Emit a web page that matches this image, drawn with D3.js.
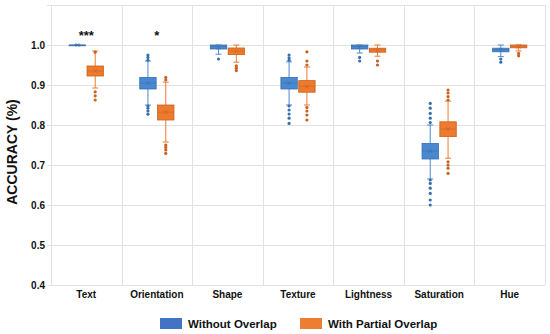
<!DOCTYPE html>
<html>
<head>
<meta charset="utf-8">
<script src="https://cdn.jsdelivr.net/npm/d3@7"></script>
<style>
  body { margin: 0; background: #fff; }
  text { font-family: "Liberation Sans", Arial, sans-serif; font-weight: bold; fill: #111; }
</style>
</head>
<body>
<svg width="550" height="334"></svg>
<script>
// categories and tick labels
var categories = ["Text", "Orientation", "Shape", "Texture", "Lightness", "Saturation", "Hue"];
var series = ["Without Overlap", "With Partial Overlap"];
var yTicks = [0.4, 0.5, 0.6, 0.7, 0.8, 0.9, 1.0];
var stars = ["***", "*", "", "", "", "", ""];

// box stats per category: [lowWhisker, q1, median, q3, highWhisker, mean]
var withoutStats = [
  [1.0, 1.0, 1.0, 1.0, 1.0, 1.0],
  [0.85, 0.89, 0.905, 0.919, 0.96, 0.905],
  [0.977, 0.99, 0.996, 1.0, 1.0, 0.993],
  [0.85, 0.89, 0.905, 0.919, 0.958, 0.904],
  [0.98, 0.99, 0.996, 1.0, 1.0, 0.994],
  [0.665, 0.715, 0.735, 0.754, 0.8, 0.735],
  [0.971, 0.983, 0.988, 0.992, 1.0, 0.988]
];
var partialStats = [
  [0.8925, 0.9225, 0.935, 0.9475, 0.985, 0.935],
  [0.7575, 0.8125, 0.832, 0.85, 0.907, 0.832],
  [0.957, 0.976, 0.985, 0.9925, 1.0, 0.984],
  [0.85, 0.882, 0.897, 0.911, 0.945, 0.896],
  [0.972, 0.982, 0.988, 0.992, 1.0, 0.987],
  [0.717, 0.771, 0.79, 0.808, 0.86, 0.79],
  [0.985, 0.993, 0.997, 1.0, 1.0, 0.996]
];

// outliers per category
var withoutOutliers = [
  [],
  [0.975, 0.969, 0.962, 0.8475, 0.842, 0.835, 0.827],
  [0.965],
  [0.975, 0.968, 0.962, 0.8475, 0.8375, 0.8275, 0.817, 0.804],
  [0.969, 0.96],
  [0.854, 0.842, 0.829, 0.817, 0.806, 0.6625, 0.654, 0.642, 0.629, 0.6125, 0.6],
  [0.965, 0.957]
];
var partialOutliers = [
  [0.982, 0.883, 0.873, 0.8625],
  [0.919, 0.9125, 0.75, 0.744, 0.7375, 0.729],
  [0.948, 0.942, 0.936],
  [0.983, 0.96, 0.95, 0.844, 0.835, 0.825, 0.8125],
  [0.96, 0.95],
  [0.8875, 0.88, 0.871, 0.8625, 0.708, 0.7, 0.692, 0.679],
  [0.979, 0.973]
];

var fills = ["#4a89cf", "#ee7a2e"];
var strokes = ["#3a6fae", "#c9621f"];
var legendFills = ["#4472c4", "#ed7d31"];

var svg = d3.select("svg");
var margin = {left: 51, right: 5, top: 5, bottom: 49};
var W = 550, H = 334;

var x = d3.scaleBand().domain(categories).range([margin.left, W - margin.right]);
var y = d3.scaleLinear().domain([0.4, 1.1]).range([H - margin.bottom, margin.top]);
var sub = d3.scaleBand().domain(series).range([0, x.bandwidth()]).paddingInner(0.08).paddingOuter(1.02);

var g = {
  grid: svg.append("g").attr("id", "grid"),
  axes: svg.append("g").attr("id", "axes"),
  boxes: svg.append("g").attr("id", "boxes"),
  legend: svg.append("g").attr("id", "legend")
};

// horizontal gridlines
g.grid.selectAll("line.h")
  .data(yTicks.concat([1.1]))
  .enter().append("line")
  .attr("x1", margin.left - 4)
  .attr("x2", W - margin.right)
  .attr("y1", function(d) { return Math.round(y(d)) + 0.5; })
  .attr("y2", function(d) { return Math.round(y(d)) + 0.5; })
  .style("stroke", "#e2e2e2")
  .style("stroke-width", 1);

// vertical gridlines
var vx = categories.map(function(c) { return x(c); }).concat([W - margin.right]);
g.grid.selectAll("line.v")
  .data(vx)
  .enter().append("line")
  .attr("x1", function(d) { return Math.round(d) + 0.5; })
  .attr("x2", function(d) { return Math.round(d) + 0.5; })
  .attr("y1", y(1.1))
  .attr("y2", y(0.4))
  .style("stroke", "#e2e2e2");

// y tick labels
g.axes.selectAll("text.ytick")
  .data(yTicks)
  .enter().append("text")
  .attr("x", 45)
  .attr("y", function(d) { return y(d); })
  .attr("dy", "0.35em")
  .attr("text-anchor", "end")
  .style("font-size", "10px")
  .text(function(d) { return d3.format(".1f")(d); });

// x labels
g.axes.selectAll("text.xtick")
  .data(categories)
  .enter().append("text")
  .attr("x", function(d) { return x(d) + x.bandwidth() / 2; })
  .attr("y", 298)
  .attr("text-anchor", "middle")
  .style("font-size", "10px")
  .text(function(d) { return d; });

// y title
g.axes.append("text")
  .attr("transform", "translate(17,152) rotate(-90)")
  .attr("text-anchor", "middle")
  .style("font-size", "14px")
  .text("ACCURACY (%)");

// significance stars
g.axes.selectAll("text.star")
  .data(stars)
  .enter().append("text")
  .attr("x", function(d, i) { return x(categories[i]) + x.bandwidth() / 2; })
  .attr("y", 40)
  .attr("text-anchor", "middle")
  .style("font-size", "13px")
  .text(function(d) { return d; });

function drawSeries(si, stats, outliers) {
  var bw = sub.bandwidth();
  var cat = g.boxes.selectAll("g.s" + si)
    .data(categories)
    .enter().append("g")
    .attr("class", "s" + si)
    .attr("transform", function(d) { return "translate(" + (x(d) + sub(series[si])) + ",0)"; });

  var stroke = strokes[si];
  // whiskers
  cat.append("line")
    .attr("x1", bw / 2).attr("x2", bw / 2)
    .attr("y1", function(d, i) { return y(stats[i][0]); })
    .attr("y2", function(d, i) { return y(stats[i][4]); })
    .style("stroke", fills[si]).style("stroke-width", 1);
  [0, 4].forEach(function(k) {
    cat.append("line")
      .attr("x1", bw / 2 - 3).attr("x2", bw / 2 + 3)
      .attr("y1", function(d, i) { return y(stats[i][k]); })
      .attr("y2", function(d, i) { return y(stats[i][k]); })
      .style("stroke", fills[si]);
  });
  // box
  cat.append("rect")
    .attr("x", 0)
    .attr("width", bw)
    .attr("y", function(d, i) { return y(stats[i][3]); })
    .attr("height", function(d, i) { return Math.max(0.8, y(stats[i][1]) - y(stats[i][3])); })
    .style("fill", fills[si])
    .style("stroke", stroke)
    .style("stroke-width", 0.8);
  // median
  cat.append("line")
    .attr("x1", 0).attr("x2", bw)
    .attr("y1", function(d, i) { return y(stats[i][2]); })
    .attr("y2", function(d, i) { return y(stats[i][2]); })
    .style("stroke", stroke).style("stroke-width", 0.7).style("opacity", 0.7);
  // mean marker
  cat.append("path")
    .attr("d", function(d, i) {
      var cy = y(stats[i][5]), cx = bw / 2;
      return "M" + (cx - 2) + "," + (cy - 2) + "L" + (cx + 2) + "," + (cy + 2) +
             "M" + (cx - 2) + "," + (cy + 2) + "L" + (cx + 2) + "," + (cy - 2);
    })
    .style("stroke", stroke).style("stroke-width", 0.8).style("opacity", 0.8);
  // outliers
  cat.selectAll("circle")
    .data(function(d, i) { return outliers[i]; })
    .enter().append("circle")
    .attr("cx", bw / 2)
    .attr("cy", function(v) { return y(v); })
    .attr("r", 1.6)
    .style("fill", stroke);
}

drawSeries(0, withoutStats, withoutOutliers);
drawSeries(1, partialStats, partialOutliers);

// legend
var lx = [160, 300];
var leg = g.legend.selectAll("g.item")
  .data(series)
  .enter().append("g")
  .attr("class", "item")
  .attr("transform", function(d, i) { return "translate(" + lx[i] + ",318)"; });
leg.append("rect")
  .attr("width", 22).attr("height", 11)
  .style("fill", function(d, i) { return legendFills[i]; });
leg.append("text")
  .attr("x", 28).attr("y", 10)
  .style("font-size", "11.5px")
  .text(function(d) { return d; });
</script>
</body>
</html>
